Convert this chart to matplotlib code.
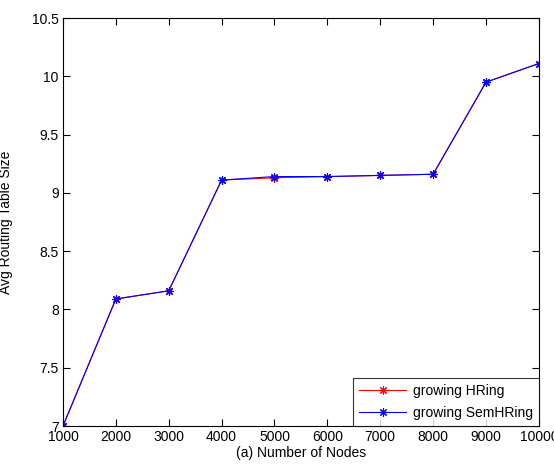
import numpy as np
import matplotlib
matplotlib.use("Agg")
import matplotlib.pyplot as plt

nodes = [1000, 2000, 3000, 4000, 5000, 6000, 7000, 8000, 9000, 10000]
hring = [7.0, 8.09, 8.16, 9.11, 9.13, 9.14, 9.15, 9.16, 9.95, 10.11]
semhring = [7.0, 8.09, 8.16, 9.11, 9.14, 9.14, 9.15, 9.16, 9.95, 10.11]

plt.rcParams["font.family"] = "Liberation Sans"
plt.rcParams["font.size"] = 10

fig = plt.figure(figsize=(5.54, 4.70), dpi=100)
ax = fig.add_axes([0.1137, 0.0936, 0.859, 0.868])
star = (8, 2, 0)
ax.plot(nodes, hring, color="red", marker=star, markersize=6, markeredgewidth=0.8,
        linewidth=0.8, label="growing HRing")
ax.plot(nodes, semhring, color="blue", marker=star, markersize=6, markeredgewidth=0.8,
        linewidth=0.8, label="growing SemHRing")

ax.set_xlim(1000, 10000)
ax.set_ylim(7, 10.5)
ax.set_xticks(np.arange(1000, 10001, 1000))
ax.set_yticks(np.arange(7, 10.51, 0.5))
ax.set_yticklabels(["7", "7.5", "8", "8.5", "9", "9.5", "10", "10.5"])
ax.tick_params(direction="in", top=True, right=True, length=5, labelsize=10, pad=3)
ax.set_xlabel("(a) Number of Nodes", fontsize=10, labelpad=1)
ax.set_ylabel("Avg Routing Table Size", fontsize=10)
ax.yaxis.set_label_coords(-0.105, 0.5)
leg = ax.legend(loc="lower right", fancybox=False, edgecolor="black", fontsize=10,
                borderaxespad=0, handlelength=3.4, borderpad=0.45, labelspacing=0.55,
                handletextpad=0.45)
leg.get_frame().set_linewidth(0.8)

fig.savefig("out.png", dpi=100)
